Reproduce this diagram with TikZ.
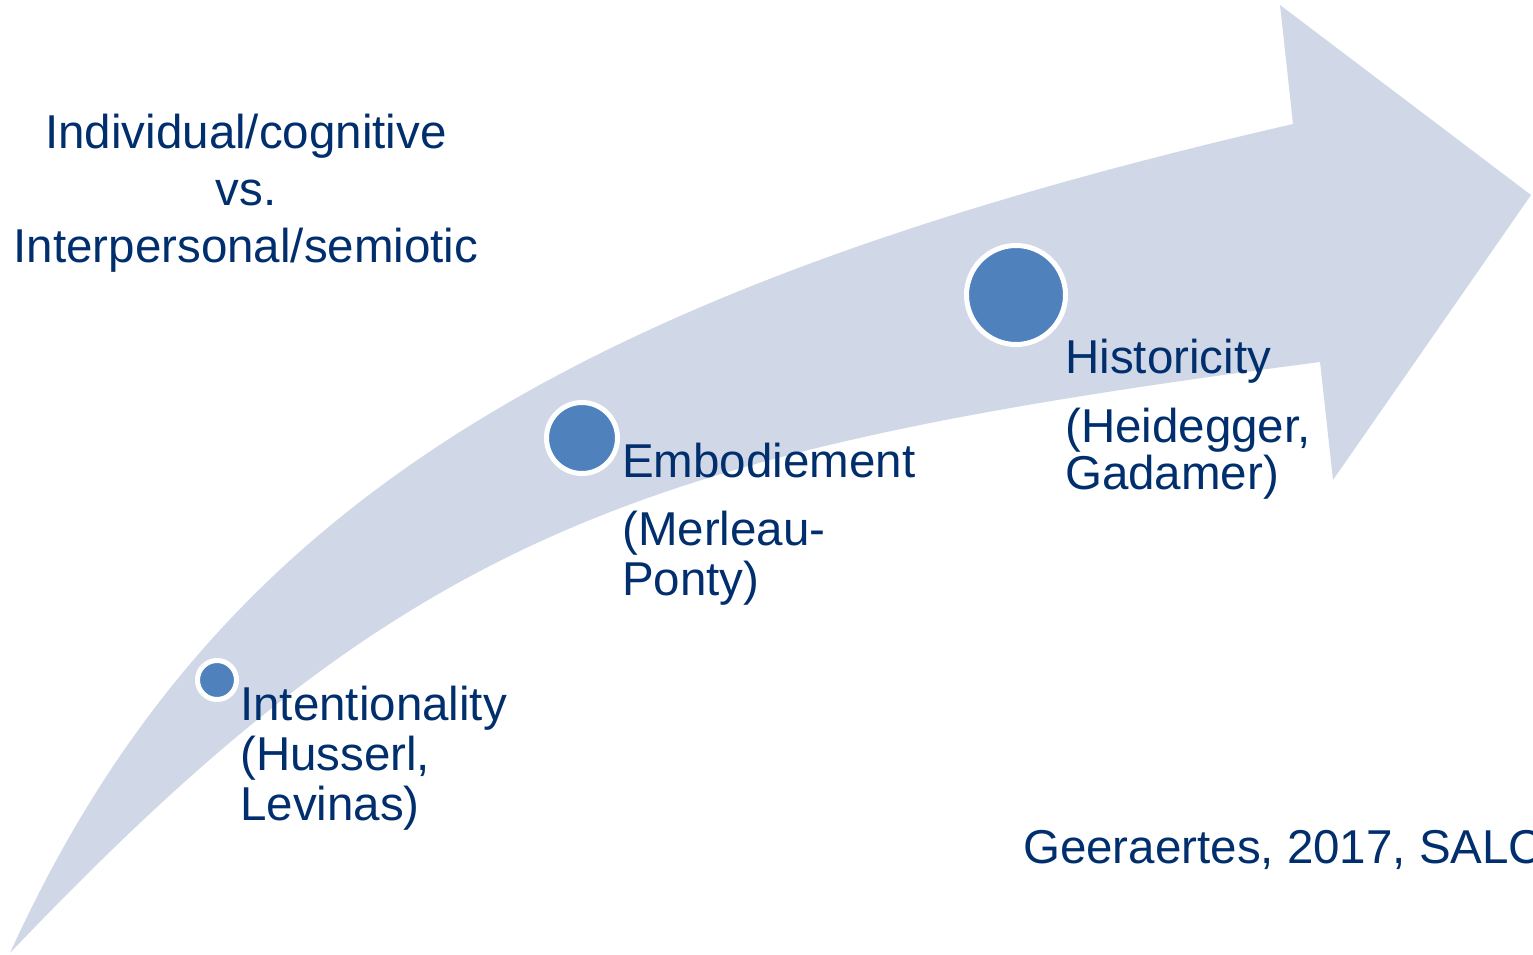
\documentclass[tikz,border=0pt]{standalone}
\usepackage{fontspec}
\setmainfont{Liberation Sans}
\definecolor{txtblue}{HTML}{012F6E}
\definecolor{arrowfill}{HTML}{D0D8E8}
\definecolor{dotblue}{HTML}{4F81BD}
\begin{document}
\begin{tikzpicture}[x=1pt,y=-1pt,
  lbl/.style={anchor=base west, inner sep=0pt, text=txtblue, font=\fontsize{47.5}{49}\selectfont},
  ttl/.style={anchor=base, inner sep=0pt, text=txtblue, font=\fontsize{47.5}{49}\selectfont},
  dot/.style={circle, fill=dotblue, draw=white, line width=5pt, inner sep=0pt}]
\useasboundingbox (0,0) rectangle (1533,955);
% curved arrow
\coordinate (tail) at (10,953);
\coordinate (ia) at (1293,124);
\coordinate (ht) at (1280,5);
\coordinate (tip) at (1531,195);
\coordinate (hb) at (1333,480);
\coordinate (ib) at (1320,362);
\fill[arrowfill] (tail) .. controls (208,518) and (554,294) .. (ia)
  -- (ht) -- (tip) -- (hb) -- (ib)
  .. controls (638,451) and (412,531) .. (tail) -- cycle;
% dots
\node[dot, minimum size=39pt] (c1) at (217,680) {};
\node[dot, minimum size=71pt] (c2) at (582,438) {};
\node[dot, minimum size=99pt] (c3) at (1016,295) {};
% title
\node[ttl] (t1) at (246,148) {Individual/cognitive};
\node[ttl] (t2) at (246,205) {vs.};
\node[ttl] (t3) at (246,262) {Interpersonal/semiotic};
% labels
\node[lbl] (i1) at (240,720) {Intentionality};
\node[lbl] (i2) at (240,770) {(Husserl,};
\node[lbl] (i3) at (240,820) {Levinas)};
\node[lbl] (e1) at (622,477) {Embodiement};
\node[lbl] (e2) at (622,545) {(Merleau-};
\node[lbl] (e3) at (622,595) {Ponty)};
\node[lbl] (h1) at (1065,373) {Historicity};
\node[lbl] (h2) at (1065,442) {(Heidegger,};
\node[lbl] (h3) at (1065,489) {Gadamer)};
\node[lbl] (src) at (1023,863) {Geeraertes, 2017, SALC};
\end{tikzpicture}
\end{document}
